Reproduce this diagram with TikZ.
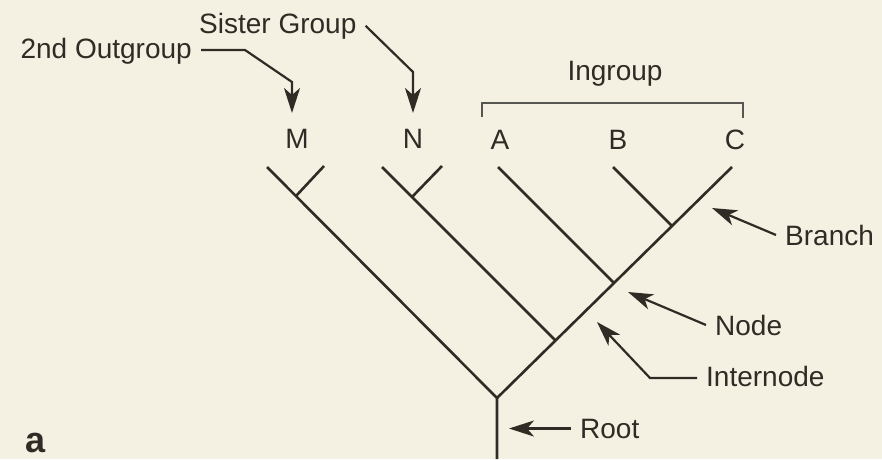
\documentclass[tikz,border=0pt]{standalone}
\usepackage{fontspec}
\setmainfont{Liberation Sans}
\usetikzlibrary{arrows.meta}
\definecolor{paper}{HTML}{F4F1E3}
\definecolor{ink}{HTML}{2E2C24}
\newcommand\colorTree{ink}
\newcommand\colorPointer{ink}
\newcommand\colorBracket{ink!80}
\newcommand\labelFont{\fontsize{28}{33}\selectfont}
\newcommand\panelFont{\fontsize{36}{40}\selectfont\bfseries}
\tikzset{
	branch/.style={draw=\colorTree, line width=2.6pt},
	pointer/.style={draw=\colorPointer, line width=2.2pt, -{Stealth[length=25pt,width=16pt,inset=7pt]}},
	bracket/.style={draw=\colorBracket, line width=1.8pt},
	taxon/.style={font=\labelFont, text=ink, anchor=base, inner sep=0pt},
	term/.style={font=\labelFont, text=ink, inner sep=9pt, anchor=base west},
}

\begin{document}
\begin{tikzpicture}[x=1pt,y=-1pt]
	\fill[paper] (0,0) rectangle (882,459);
	\useasboundingbox (0,0) rectangle (882,459);
	
	% tree
	\coordinate (base) at (497,459);
	\coordinate (fork) at (497,398);
	\coordinate (topM) at (267,167);
	\coordinate (topN) at (382,167);
	\coordinate (topA) at (498,167);
	\coordinate (topB) at (613,167);
	\coordinate (topC) at (732,167);
	\coordinate (joinN) at (555,340);
	\coordinate (joinA) at (614,283);
	\coordinate (joinB) at (672,226);
	\coordinate (stubM) at (324,166);
	\coordinate (footM) at (296,196);
	\coordinate (stubN) at (442,166);
	\coordinate (footN) at (412,197);
	
	\draw[branch] (base) -- (fork) -- (topM);
	\draw[branch] (fork) -- (topC);
	\draw[branch] (joinN) -- (topN);
	\draw[branch] (joinA) -- (topA);
	\draw[branch] (joinB) -- (topB);
	\draw[branch] (footM) -- (stubM);
	\draw[branch] (footN) -- (stubN);
	
	\node[taxon] (M) at (297,148) {M};
	\node[taxon] (N) at (413,148) {N};
	\node[taxon] (A) at (500,149) {A};
	\node[taxon] (B) at (618,149) {B};
	\node[taxon] (C) at (735,149) {C};
	
	% ingroup bracket
	\node[taxon] (ingroup) at (615,80) {Ingroup};
	\coordinate (brL) at (482,117);
	\coordinate (brR) at (743,118);
	\draw[bracket] (brL) -- ++(0,-14) -| (brR);
	
	% labels and pointers
	\node[term, anchor=base east] (outg) at (201,58) {2nd Outgroup};
	\node[term] (sis) at (190,33) {Sister Group};
	\node[term] (branchlbl) at (776,245) {Branch};
	\node[term] (nodelbl) at (706,335) {Node};
	\node[term] (interlbl) at (697,386) {Internode};
	\node[term] (rootlbl) at (571,438) {Root};
	\node[font=\panelFont, text=ink, anchor=base, inner sep=0pt] (panel) at (36,452) {a};
	
	\coordinate (bendO) at (245,50);
	\coordinate (dropO) at (292,82);
	\coordinate (tipM) at (292,113);
	\draw[pointer] (outg.east |- bendO) -- (bendO) -- (dropO) -- (tipM);
	
	\coordinate (dropS) at (413,72);
	\coordinate (tipN) at (413,113);
	\draw[pointer] (sis.east) -- (dropS) -- (tipN);
	
	\coordinate (tipBranch) at (712,208);
	\draw[pointer] (branchlbl.west) -- (tipBranch);
	
	\coordinate (tipNode) at (628,292);
	\draw[pointer] (nodelbl.west) -- (tipNode);
	
	\coordinate (bendI) at (650,378);
	\coordinate (tipInter) at (597,322);
	\draw[pointer] (interlbl.west |- bendI) -- (bendI) -- (tipInter);
	
	\coordinate (tipRoot) at (509,428);
	\draw[pointer] (rootlbl.west) -- (rootlbl.west -| tipRoot);
\end{tikzpicture}
\end{document}
